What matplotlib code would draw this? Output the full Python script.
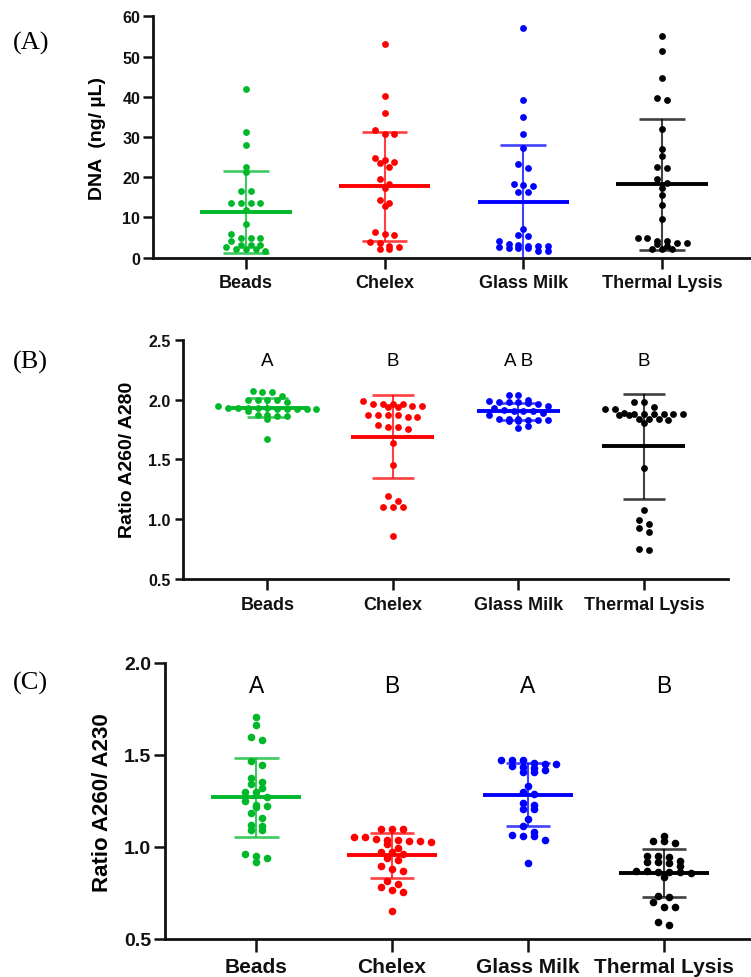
import matplotlib
matplotlib.use("Agg")
import matplotlib.pyplot as plt
import numpy as np

# ---------------- data ----------------
categories = ["Beads", "Chelex", "Glass Milk", "Thermal Lysis"]
group_colors = ["#00b82a", "#ff0000", "#0000ff", "#000000"]

# Panel A: DNA (ng/uL)
beads_A = [41.9, 31.2, 28.1, 22.6, 21.2, 16.6, 16.6, 13.7, 13.5, 13.5, 13.5, 11.9, 8.5,
           5.8, 5.0, 5.0, 5.0, 4.2, 3.1, 3.1, 3.1, 2.7, 2.1, 2.1, 2.1, 1.6]
chelex_A = [53.1, 40.2, 36.0, 31.7, 30.8, 30.8, 24.9, 24.2, 23.7, 23.5, 22.6, 19.6, 18.4,
            17.2, 14.4, 13.5, 12.8, 6.5, 5.9, 5.7, 3.9, 3.6, 2.9, 2.7, 2.2, 2.1]
glass_A = [57.1, 39.3, 34.9, 30.8, 27.3, 23.4, 22.2, 18.4, 18.1, 17.9, 16.4, 16.4, 7.1,
           5.6, 5.3, 4.1, 3.4, 3.2, 3.0, 3.0, 3.0, 2.6, 2.4, 2.4, 2.4, 1.7, 1.7]
thermal_A = [55.1, 51.4, 44.6, 39.8, 39.3, 32.1, 26.9, 25.3, 22.6, 22.3, 19.5, 18.6, 17.3,
             15.6, 13.1, 9.5, 4.8, 4.8, 4.1, 4.1, 3.6, 3.6, 3.4, 2.8, 2.1, 2.1, 2.1]
mean_A = [11.4, 17.7, 13.8, 18.2]
sd_A = [10.2, 13.6, 14.3, 16.3]

# Panel B: A260/A280
beads_B = [2.07, 2.06, 2.06, 2.03, 2.00, 2.00, 2.00, 2.00, 1.98, 1.95, 1.93, 1.93, 1.93, 1.93,
           1.93, 1.92, 1.92, 1.92, 1.92, 1.92, 1.90, 1.87, 1.87, 1.86, 1.86, 1.84, 1.67]
chelex_B = [1.99, 1.96, 1.96, 1.96, 1.96, 1.95, 1.95, 1.94, 1.94, 1.87, 1.87, 1.87, 1.87, 1.85,
            1.85, 1.79, 1.77, 1.77, 1.75, 1.64, 1.45, 1.19, 1.15, 1.10, 1.10, 1.10, 0.86]
glass_B = [2.04, 2.04, 2.00, 1.99, 1.98, 1.98, 1.98, 1.97, 1.96, 1.95, 1.93, 1.91, 1.90, 1.90,
           1.90, 1.89, 1.87, 1.84, 1.84, 1.84, 1.83, 1.83, 1.83, 1.82, 1.82, 1.78, 1.76]
thermal_B = [1.98, 1.98, 1.94, 1.92, 1.92, 1.89, 1.88, 1.88, 1.88, 1.88, 1.88, 1.88, 1.87, 1.87,
             1.84, 1.84, 1.84, 1.83, 1.80, 1.43, 1.075, 0.99, 0.96, 0.93, 0.89, 0.75, 0.74]
mean_B = [1.93, 1.69, 1.90, 1.61]
sd_B = [0.08, 0.35, 0.07, 0.44]
letters_B = ["A", "B", "A B", "B"]

# Panel C: A260/A230
beads_C = [1.705, 1.663, 1.60, 1.58, 1.47, 1.445, 1.373, 1.355, 1.34, 1.32, 1.30, 1.30, 1.274,
           1.25, 1.23, 1.225, 1.215, 1.185, 1.16, 1.12, 1.115, 1.09, 1.09, 0.96, 0.95, 0.94, 0.92]
chelex_C = [1.10, 1.10, 1.10, 1.056, 1.053, 1.042, 1.040, 1.036, 1.034, 1.031, 1.029, 1.018,
            0.993, 0.971, 0.971, 0.96, 0.94, 0.93, 0.898, 0.88, 0.871, 0.817, 0.80, 0.784,
            0.768, 0.757, 0.65]
glass_C = [1.475, 1.475, 1.475, 1.455, 1.45, 1.45, 1.44, 1.435, 1.43, 1.42, 1.41, 1.405, 1.333,
           1.30, 1.29, 1.24, 1.23, 1.205, 1.205, 1.152, 1.112, 1.083, 1.065, 1.06, 1.06, 1.04,
           0.913]
thermal_C = [1.062, 1.03, 1.03, 1.02, 0.953, 0.953, 0.943, 0.925, 0.92, 0.92, 0.913, 0.895,
             0.871, 0.871, 0.862, 0.862, 0.862, 0.86, 0.835, 0.735, 0.726, 0.70, 0.676, 0.672,
             0.594, 0.576]
mean_C = [1.27, 0.955, 1.285, 0.86]
sd_C = [0.215, 0.122, 0.17, 0.13]
letters_C = ["A", "B", "A", "B"]

# ---------------- helpers ----------------
W, H, DPI = 751, 978, 100
fig = plt.figure(figsize=(W / DPI, H / DPI), dpi=DPI)
SANS = "Liberation Sans"
SERIF = "Liberation Serif"


def swarm_x(vals, center, units_per_px, row_px, step):
    """GraphPad-like row swarm: group close values into rows, centre each row."""
    vals = np.asarray(vals, dtype=float)
    order = np.argsort(-vals)
    xs = np.zeros_like(vals)
    rows, cur, start = [], [], None
    for i in order:
        if start is None or (start - vals[i]) / units_per_px <= row_px:
            if start is None:
                start = vals[i]
            cur.append(i)
        else:
            rows.append(cur)
            cur, start = [i], vals[i]
    if cur:
        rows.append(cur)
    for r in rows:
        n = len(r)
        for k, i in enumerate(r):
            xs[i] = center + (k - (n - 1) / 2.0) * step
    return xs


def panel(rect_px, ylim, yticks, ytlabels, groups, means, sds, xlim,
          tick_fs, xlab_fs, ms, step_px, ylen, ypad, xlen, xpad, row_px):
    left, right, top, bottom = rect_px
    ax = fig.add_axes([left / W, 1 - bottom / H, (right - left) / W, (bottom - top) / H])
    ax.set_xlim(*xlim)
    ax.set_ylim(*ylim)
    for s in ["top", "right"]:
        ax.spines[s].set_visible(False)
    for s in ["left", "bottom"]:
        ax.spines[s].set_linewidth(2.0)
        ax.spines[s].set_color("#111111")
    units_per_px_y = (ylim[1] - ylim[0]) / (bottom - top)
    units_per_px_x = (xlim[1] - xlim[0]) / (right - left)
    step = step_px * units_per_px_x
    for i, (vals, m, sd, c) in enumerate(zip(groups, means, sds, group_colors)):
        xs = swarm_x(vals, i, units_per_px_y, row_px, step)
        ax.scatter(xs, vals, s=ms, color=c, zorder=3, linewidths=0, clip_on=False)
        ax.vlines(i, m - sd, m + sd, color=c, lw=1.5, alpha=0.75, zorder=4)
        ax.hlines([m - sd, m + sd], i - 0.165, i + 0.165, color=c, lw=1.9, alpha=0.75, zorder=4)
        ax.hlines(m, i - 0.33, i + 0.33, color=c, lw=2.8, zorder=5)
    ax.set_yticks(yticks)
    ax.set_yticklabels(ytlabels, fontsize=tick_fs, fontweight="bold", family=SANS)
    ax.set_xticks(range(len(categories)))
    ax.set_xticklabels(categories, fontsize=xlab_fs, fontweight="bold", family=SANS)
    ax.tick_params(axis="y", length=ylen, width=1.8, pad=ypad, colors="#111111")
    ax.tick_params(axis="x", length=xlen, width=1.8, pad=xpad, colors="#111111")
    return ax


# ---------------- Panel A ----------------
axA = panel((152.7, 751, 17.3, 258.7), (0, 60), [0, 10, 20, 30, 40, 50, 60],
            ["0", "10", "20", "30", "40", "50", "60"],
            [beads_A, chelex_A, glass_A, thermal_A], mean_A, sd_A, (-0.67, 3.64),
            tick_fs=11.5, xlab_fs=13, ms=24, step_px=9.8, ylen=7, ypad=2, xlen=8, xpad=4,
            row_px=5)
fig.text(97 / W, 1 - 138 / H, "DNA  (ng/ µL)", rotation=90, ha="center", va="center",
         fontsize=14, fontweight="bold", family=SANS)
fig.text(13 / W, 1 - 43 / H, "(A)", ha="left", va="center", fontsize=19, family=SERIF)

# ---------------- Panel B ----------------
axB = panel((183.3, 728, 340.7, 580), (0.5, 2.5), [0.5, 1.0, 1.5, 2.0, 2.5],
            ["0.5", "1.0", "1.5", "2.0", "2.5"],
            [beads_B, chelex_B, glass_B, thermal_B], mean_B, sd_B, (-0.67, 3.67),
            tick_fs=11.5, xlab_fs=13, ms=24, step_px=9.8, ylen=6, ypad=3, xlen=8, xpad=4,
            row_px=5.5)
for i, t in enumerate(letters_B):
    axB.text(i, 2.325, t, ha="center", va="center", fontsize=13.5, family=SANS)
fig.text(127 / W, 1 - 460 / H, "Ratio A260/ A280", rotation=90, ha="center", va="center",
         fontsize=14, fontweight="bold", family=SANS)
fig.text(13 / W, 1 - 362 / H, "(B)", ha="left", va="center", fontsize=19, family=SERIF)

# ---------------- Panel C ----------------
axC = panel((165, 751, 664, 940), (0.5, 2.0), [0.5, 1.0, 1.5, 2.0],
            ["0.5", "1.0", "1.5", "2.0"],
            [beads_C, chelex_C, glass_C, thermal_C], mean_C, sd_C, (-0.67, 3.64),
            tick_fs=14, xlab_fs=15, ms=30, step_px=11, ylen=8, ypad=2, xlen=9, xpad=4,
            row_px=5.5)
for i, t in enumerate(letters_C):
    axC.text(i, 1.877, t, ha="center", va="center", fontsize=16.5, family=SANS)
fig.text(103 / W, 1 - 803 / H, "Ratio A260/ A230", rotation=90, ha="center", va="center",
         fontsize=16, fontweight="bold", family=SANS)
fig.text(13 / W, 1 - 683 / H, "(C)", ha="left", va="center", fontsize=19, family=SERIF)

fig.savefig("out.png", dpi=DPI, facecolor="white")
